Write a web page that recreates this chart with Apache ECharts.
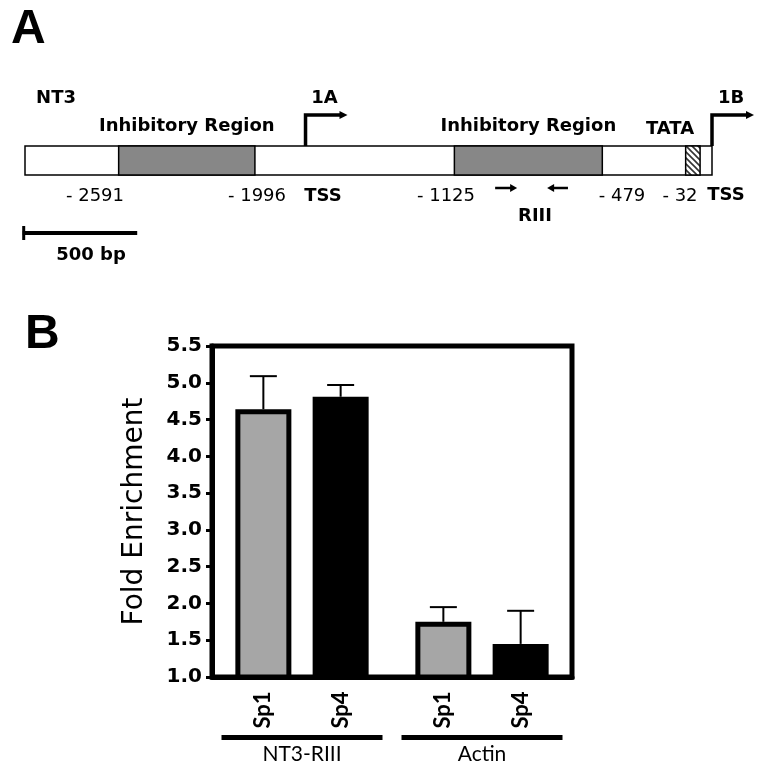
<!DOCTYPE html>
<html><head><meta charset="utf-8">
<script src="https://cdn.jsdelivr.net/npm/echarts@6/dist/echarts.min.js"></script>
<style>html,body{margin:0;padding:0;background:#fff}#c{width:761px;height:779px}</style>
</head><body><div id="c"></div>
<script>
// ---------- Panel B data ----------
const groups = ['NT3-RIII', 'Actin'];
const seriesNames = ['Sp1', 'Sp4'];
const sp1Values = [4.64, 1.75];
const sp4Values = [4.81, 1.45];
const sp1ErrTop = [5.09, 1.95];
const sp4ErrTop = [4.97, 1.90];
const yMin = 1.0, yMax = 5.5, yStep = 0.5;

// ---------- Panel A data (bp, relative to TSS 1B) ----------
const geneSpan = [-3000, 0];
const inhibitoryRegions = [[-2591, -1996], [-1125, -479]];
const tataBox = [-115, -52];
const tssSites = [-1775, 0];
const tssNames = ['1A', '1B'];
const primers = [[-947, -851], [-629, -720]];
const positionLabels = ['- 2591', '- 1996', '- 1125', '- 479', '- 32'];
const scaleBar = [-3010, -2510];
const scaleBarLabel = '500 bp';

// ---------- styles ----------
const BOLD_A = {fontFamily: 'DejaVu Sans', fontWeight: 'bold', fontSize: 18, fill: '#000'};
const REG_A = {fontFamily: 'DejaVu Sans', fontWeight: 'normal', fontSize: 18, fill: '#000'};

// hatch pattern for TATA box
const hatch = document.createElement('canvas');
hatch.width = 6; hatch.height = 6;
(function () {
  const g = hatch.getContext('2d');
  g.fillStyle = '#fff'; g.fillRect(0, 0, 6, 6);
  g.strokeStyle = '#333'; g.lineWidth = 1.6;
  g.beginPath();
  g.moveTo(-1, -1); g.lineTo(7, 7);
  g.moveTo(-4, 2); g.lineTo(4, 10);
  g.moveTo(2, -4); g.lineTo(10, 4);
  g.stroke();
})();

function rectRender(fill, withLabel) {
  return function (params, api) {
    const p0 = api.coord([api.value(0), 1]);
    const p1 = api.coord([api.value(1), 0]);
    const children = [{
      type: 'rect',
      shape: {x: p0[0], y: p0[1], width: p1[0] - p0[0], height: p1[1] - p0[1]},
      style: {fill: fill, stroke: '#000', lineWidth: 1.5}
    }];
    if (withLabel) {
      children.push({
        type: 'text',
        style: Object.assign({text: 'Inhibitory Region', x: (p0[0] + p1[0]) / 2, y: p0[1] - 20,
          align: 'center', verticalAlign: 'middle'}, BOLD_A)
      });
    }
    return {type: 'group', children: children};
  };
}

function tssRender(params, api) {
  const p = api.coord([api.value(0), 1]);
  const x = p[0], top = p[1], y = top - 31;
  return {
    type: 'group',
    children: [
      {type: 'polyline', shape: {points: [[x, top], [x, y], [x + 36, y]]},
        style: {stroke: '#000', lineWidth: 3.5, fill: null}},
      {type: 'polygon', shape: {points: [[x + 34, y - 4], [x + 42, y], [x + 34, y + 4]]},
        style: {fill: '#000'}},
      {type: 'text', style: Object.assign({text: tssNames[params.dataIndex], x: x + 19, y: y - 17,
        align: 'center', verticalAlign: 'middle'}, BOLD_A)}
    ]
  };
}

function primerRender(params, api) {
  const a = api.coord([api.value(0), 0]);
  const b = api.coord([api.value(1), 0]);
  const y = a[1] + 13;
  const dir = b[0] > a[0] ? 1 : -1;
  return {
    type: 'group',
    children: [
      {type: 'line', shape: {x1: a[0], y1: y, x2: b[0] - dir * 5, y2: y}, style: {stroke: '#000', lineWidth: 2.5}},
      {type: 'polygon', shape: {points: [[b[0] - dir * 7, y - 4], [b[0], y], [b[0] - dir * 7, y + 4]]}, style: {fill: '#000'}}
    ]
  };
}

function scaleRender(params, api) {
  const a = api.coord([api.value(0), 0]);
  const b = api.coord([api.value(1), 0]);
  const y = a[1] + 58;
  return {
    type: 'group',
    children: [
      {type: 'line', shape: {x1: a[0], y1: y, x2: b[0], y2: y}, style: {stroke: '#000', lineWidth: 4}},
      {type: 'line', shape: {x1: a[0] + 1, y1: y - 7, x2: a[0] + 1, y2: y + 7}, style: {stroke: '#000', lineWidth: 3}},
      {type: 'text', style: Object.assign({text: scaleBarLabel, x: (a[0] + b[0]) / 2 + 11, y: y + 22,
        align: 'center', verticalAlign: 'middle'}, BOLD_A)}
    ]
  };
}

const BAR_W = 56, BAR_GAP = 0.38;
const half = BAR_W * (1 + BAR_GAP) / 2;
function errRender(offset) {
  return function (params, api) {
    const base = api.coord([api.value(0), api.value(2)]);
    const top = api.coord([api.value(0), api.value(1)]);
    const x = base[0] + offset;
    return {
      type: 'group',
      children: [
        {type: 'line', shape: {x1: x, y1: base[1], x2: x, y2: top[1]}, style: {stroke: '#000', lineWidth: 2}},
        {type: 'line', shape: {x1: x - 13.5, y1: top[1], x2: x + 13.5, y2: top[1]}, style: {stroke: '#000', lineWidth: 2}}
      ]
    };
  };
}

// annotation layout (pixels)
const posLabelX = [95, 257, 446, 622, 680];
const graphics = [
  {type: 'text', left: 11, top: 6, style: {text: 'A', fontFamily: 'Liberation Sans', fontWeight: 'bold', fontSize: 48, fill: '#000'}},
  {type: 'text', left: 25, top: 311, style: {text: 'B', fontFamily: 'Liberation Sans', fontWeight: 'bold', fontSize: 48, fill: '#000'}},
  {type: 'text', x: 56, y: 98, style: Object.assign({text: 'NT3', align: 'center', verticalAlign: 'middle'}, BOLD_A)},
  {type: 'text', x: 670, y: 129, style: Object.assign({text: 'TATA', align: 'center', verticalAlign: 'middle'}, BOLD_A)},
  {type: 'text', x: 323, y: 196, style: Object.assign({text: 'TSS', align: 'center', verticalAlign: 'middle'}, BOLD_A)},
  {type: 'text', x: 726, y: 195, style: Object.assign({text: 'TSS', align: 'center', verticalAlign: 'middle'}, BOLD_A)},
  {type: 'text', x: 535, y: 216, style: Object.assign({text: 'RIII', align: 'center', verticalAlign: 'middle'}, BOLD_A)}
];
positionLabels.forEach(function (t, i) {
  graphics.push({type: 'text', x: posLabelX[i], y: 196, style: Object.assign({text: t, align: 'center', verticalAlign: 'middle'}, REG_A)});
});

const chart = echarts.init(document.getElementById('c'), null, {renderer: 'canvas'});
chart.setOption({
  animation: false,
  backgroundColor: '#fff',
  graphic: graphics,
  grid: [
    {left: 25, top: 146, width: 687, height: 29},
    {left: 212, top: 346, right: 189, bottom: 102, show: true, borderColor: '#000', borderWidth: 5, backgroundColor: 'transparent'}
  ],
  xAxis: [
    {gridIndex: 0, type: 'value', min: geneSpan[0], max: geneSpan[1], show: false},
    {gridIndex: 1, type: 'category', data: groups,
      axisLine: {lineStyle: {color: '#000', width: 5}},
      axisTick: {show: false},
      axisLabel: {
        margin: 58, interval: 0,
        formatter: function (v) { return '{rule| }\n{name|' + v + '}'; },
        rich: {
          rule: {width: 161, height: 5, lineHeight: 5, backgroundColor: '#000', fontSize: 4},
          name: {fontFamily: 'Lato', fontSize: 21, lineHeight: 28, color: '#000'}
        }
      }
    }
  ],
  yAxis: [
    {gridIndex: 0, type: 'value', min: 0, max: 1, show: false},
    {gridIndex: 1, type: 'value', min: yMin, max: yMax, interval: yStep,
      axisLine: {show: true, lineStyle: {color: '#000', width: 5}},
      axisTick: {show: true, length: 6, lineStyle: {color: '#000', width: 3}},
      splitLine: {show: false},
      axisLabel: {margin: 10, color: '#000', fontFamily: 'DejaVu Sans', fontWeight: 'bold', fontSize: 20,
        formatter: function (v) { return v.toFixed(1); }},
      name: 'Fold Enrichment', nameLocation: 'middle', nameGap: 63,
      nameTextStyle: {fontFamily: 'DejaVu Sans', fontSize: 28, color: '#000'}
    }
  ],
  series: [
    {type: 'custom', xAxisIndex: 0, yAxisIndex: 0, renderItem: rectRender('#fff', false), data: [geneSpan]},
    {type: 'custom', xAxisIndex: 0, yAxisIndex: 0, renderItem: rectRender('#878787', true), data: inhibitoryRegions},
    {type: 'custom', xAxisIndex: 0, yAxisIndex: 0, renderItem: rectRender({image: hatch, repeat: 'repeat'}, false), data: [tataBox]},
    {type: 'custom', xAxisIndex: 0, yAxisIndex: 0, renderItem: tssRender, data: tssSites.map(function (v) { return [v]; })},
    {type: 'custom', xAxisIndex: 0, yAxisIndex: 0, renderItem: primerRender, data: primers},
    {type: 'custom', xAxisIndex: 0, yAxisIndex: 0, renderItem: scaleRender, data: [scaleBar]},
    {type: 'bar', name: seriesNames[0], xAxisIndex: 1, yAxisIndex: 1, data: sp1Values,
      barWidth: BAR_W, barGap: (BAR_GAP * 100) + '%',
      itemStyle: {color: '#a6a6a6', borderColor: '#000', borderWidth: 5},
      label: {show: true, position: 'bottom', distance: 12, rotate: 90, align: 'right', verticalAlign: 'middle',
        formatter: '{a}', fontFamily: 'Lato', fontWeight: 'bold', fontSize: 22, color: '#000'}},
    {type: 'bar', name: seriesNames[1], xAxisIndex: 1, yAxisIndex: 1, data: sp4Values,
      barWidth: BAR_W, barGap: (BAR_GAP * 100) + '%',
      itemStyle: {color: '#000', borderColor: '#000', borderWidth: 5},
      label: {show: true, position: 'bottom', distance: 12, rotate: 90, align: 'right', verticalAlign: 'middle',
        formatter: '{a}', fontFamily: 'Lato', fontWeight: 'bold', fontSize: 22, color: '#000'}},
    {type: 'custom', xAxisIndex: 1, yAxisIndex: 1, z: 5, renderItem: errRender(-half),
      data: groups.map(function (g, i) { return [i, sp1ErrTop[i], sp1Values[i]]; })},
    {type: 'custom', xAxisIndex: 1, yAxisIndex: 1, z: 5, renderItem: errRender(half),
      data: groups.map(function (g, i) { return [i, sp4ErrTop[i], sp4Values[i]]; })}
  ]
});
</script>
</body></html>
